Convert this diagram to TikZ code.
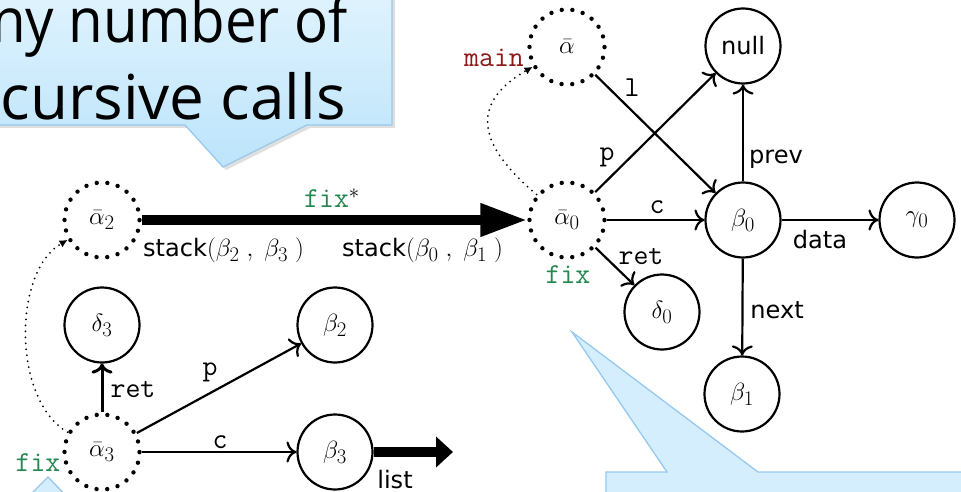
\documentclass[tikz,border=0pt]{standalone}
\usepackage{fontspec}
\newfontfamily\dejavu{DejaVu Sans}[Scale=0.83]
\newfontfamily\callfont{Open Sans}
\usetikzlibrary{arrows.meta,shadows}
\definecolor{fixgreen}{RGB}{38,135,80}
\definecolor{mainred}{RGB}{140,25,25}
\definecolor{calloutedge}{RGB}{150,200,240}
\definecolor{callouttop}{RGB}{228,245,253}
\definecolor{calloutbot}{RGB}{188,228,252}
\definecolor{calloutfill}{RGB}{212,238,253}

\begin{document}
\begin{tikzpicture}[x=1pt,y=1pt,
  font=\fontsize{29}{34}\selectfont,
  state/.style={circle, draw, line width=2.2pt, minimum size=75pt, inner sep=0pt},
  frame/.style={circle, draw, line width=4.4pt, dash pattern=on 0pt off 10.7pt,
    line cap=round, minimum size=75pt, inner sep=0pt},
  link/.style={line width=2.2pt, -{Computer Modern Rightarrow[length=10pt,width=21pt]}},
  callpath/.style={line width=2pt, dash pattern=on 0pt off 6pt, line cap=round,
    -{Latex[length=8pt,width=8pt]}},
  bigarrow/.style={line width=10pt},
  tlab/.style={font=\fontsize{29}{34}\selectfont\ttfamily},
  slab/.style={font=\fontsize{29}{34}\selectfont\dejavu},
  callout/.style={draw=calloutedge, line width=1.3pt,
    drop shadow={opacity=0.25, shadow xshift=3pt, shadow yshift=-3pt}},
  calltext/.style={font=\fontsize{62}{72}\selectfont\callfont, inner sep=0pt, anchor=base east},
]
\useasboundingbox (0,0) rectangle (961,-492);
\clip (0,0) rectangle (961,-492);

% speech bubble at the top left
\path[callout, top color=callouttop, bottom color=calloutbot]
  (-30,30) -- (392,30) -- (392,-125) -- (307,-125) -- (223,-167) -- (185,-125)
  -- (-30,-125) -- cycle;
\node[calltext] (say1) at (348,-43) {\scalebox{0.91}[1]{ny number of}};
\node[calltext] (say2) at (346,-120) {cursive calls};

% speech bubble at the bottom right
\path[callout, fill=calloutfill]
  (606,-472) -- (667,-472) -- (572,-332) -- (758,-472) -- (990,-472)
  -- (990,-520) -- (606,-520) -- cycle;

% pointer of a bubble below, bottom left
\path[callout, fill=calloutfill]
  (48,-477) -- (75,-505) -- (20,-505) -- cycle;

% heap graph
\node[frame] (abar) at (567,-47) {$\bar\alpha$};
\node[state] (null) at (743,-46) {\dejavu null};
\node[frame] (a0) at (567,-220) {$\bar\alpha_0$};
\node[state] (b0) at (743,-220) {$\beta_0$};
\node[state] (g0) at (917,-220) {$\gamma_0$};
\node[state] (d0) at (662,-312) {$\delta_0$};
\node[state] (b1) at (742,-394) {$\beta_1$};
\node[frame] (a2) at (102,-220) {$\bar\alpha_2$};
\node[state] (d3) at (102,-325) {$\delta_3$};
\node[state] (b2) at (335,-325) {$\beta_2$};
\node[frame] (a3) at (102,-452) {$\bar\alpha_3$};
\node[state] (b3) at (335,-452) {$\beta_3$};
\coordinate (listend) at (453,-452);

% pointer edges
\draw[link] (abar) -- (b0);
\draw[link] (a0) -- (null);
\draw[link] (a0) -- (b0);
\draw[link] (a0) -- (d0);
\draw[link] (b0) -- (null);
\draw[link] (b0) -- (g0);
\draw[link] (b0) -- (b1);
\draw[link, line width=3pt] (a3) -- (d3);
\draw[link] (a3) -- (b2);
\draw[link] (a3) -- (b3);

% call edges
\draw[callpath] (a0) to[out=140, in=210, looseness=1.5] (abar);
\draw[callpath] (a3) to[out=150, in=210, looseness=0.85] (a2);

% summarised recursion and list segment
\draw[bigarrow, -{Triangle[length=47pt,width=31pt]}] (a2) -- (a0);
\draw[bigarrow, -{Triangle[length=17pt,width=30pt]}] (b3) -- (listend);

% edge labels
\node[tlab] (ll) at (632,-88) {l};
\node[tlab] (lp0) at (607,-157) {p};
\node[tlab] (lc0) at (657,-207) {c};
\node[slab] (lprev) at (776,-159) {prev};
\node[slab] (ldata) at (820,-240) {data};
\node[slab] (lnext) at (777,-310) {next};
\node[tlab] (lret0) at (641,-257) {ret};
\node[tlab, text=fixgreen] (lfix0) at (568,-275) {fix};
\node[tlab, text=mainred] (lmain) at (494,-58) {main};
\node[tlab] (lfixs) at (332,-198) {{\color{fixgreen}fix}$^{*}$};
\node[slab, anchor=west, inner sep=0pt] (ls23) at (143,-250) {stack$(\beta_2\;,\;\beta_3\;)$};
\node[slab, anchor=west, inner sep=0pt] (ls01) at (342,-250) {stack$(\beta_0\;,\;\beta_1\;)$};
\node[tlab] (lret3) at (133,-390) {ret};
\node[tlab] (lp3) at (210,-372) {p};
\node[tlab] (lc3) at (220,-442) {c};
\node[slab] (llist) at (395,-480) {list};
\node[tlab, text=fixgreen] (lfix3) at (38,-463) {fix};
\end{tikzpicture}
\end{document}
